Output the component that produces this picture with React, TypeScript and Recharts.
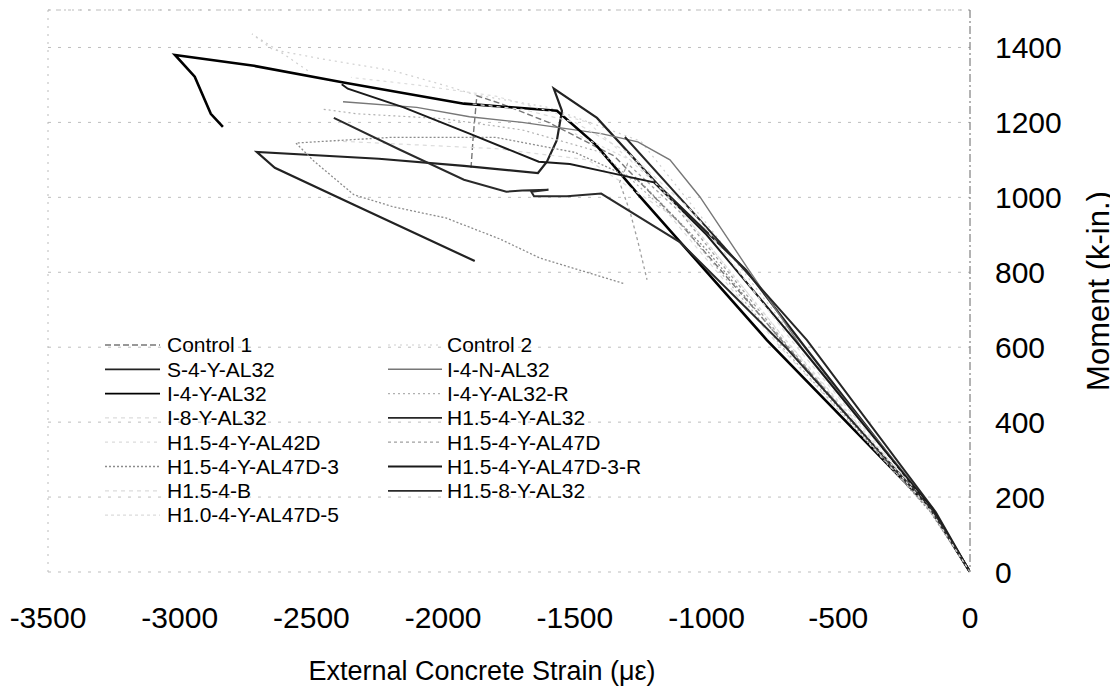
import React from 'react';
import { LineChart, Line, XAxis, YAxis, CartesianGrid, ReferenceLine, Legend, Label } from 'recharts';

type Pair = [number, number];

// strain in microstrain, moment in k-in.
const STRAIN_TICKS = [-3500, -3000, -2500, -2000, -1500, -1000, -500, 0];
const MOMENT_TICKS = [0, 200, 400, 600, 800, 1000, 1200, 1400];

const CONTROL_1: Pair[] = [
  [0, 0], [-160, 175], [-680, 590], [-1100, 930], [-1350, 1110], [-1600, 1200],
  [-1780, 1250], [-1872, 1271], [-1885, 1170], [-1895, 1071],
];
const CONTROL_2: Pair[] = [
  [0, 0], [-160, 180], [-640, 600], [-1000, 930], [-1250, 1150], [-1600, 1240],
  [-1880, 1274], [-1990, 1298], [-2191, 1338], [-2464, 1370], [-2646, 1394],
  [-2726, 1436], [-2600, 1380], [-2502, 1332],
];
const S_4_Y_AL32: Pair[] = [
  [0, 0], [-150, 170], [-626, 600], [-850, 806], [-1180, 1030], [-1416, 1212],
  [-1580, 1290], [-1549, 1231], [-1568, 1153], [-1606, 1095], [-1640, 1065],
  [-1921, 1084], [-2244, 1103], [-2707, 1121], [-2639, 1079], [-2339, 980], [-1880, 830],
];
const I_4_N_AL32: Pair[] = [
  [0, 0], [-140, 170], [-640, 600], [-847, 814], [-1025, 1001], [-1139, 1100],
  [-1261, 1148], [-1400, 1170], [-1700, 1200], [-1900, 1215], [-2100, 1240], [-2380, 1255],
];
const I_4_Y_AL32: Pair[] = [
  [0, 0], [-150, 170], [-771, 619], [-1250, 1000], [-1420, 1140], [-1568, 1231],
  [-1921, 1250], [-2373, 1306], [-2718, 1351], [-3018, 1380], [-2943, 1322],
  [-2882, 1223], [-2836, 1188],
];
const I_4_Y_AL32_R: Pair[] = [
  [0, 0], [-150, 160], [-700, 590], [-1100, 930], [-1400, 1120], [-1700, 1180],
  [-2000, 1210], [-2327, 1223], [-2464, 1236],
];
const I_8_Y_AL32: Pair[] = [
  [0, 0], [-150, 165], [-720, 600], [-1150, 960], [-1450, 1100], [-1800, 1130],
  [-2100, 1140], [-2400, 1150],
];
const H15_4_Y_AL32: Pair[] = [
  [0, 0], [-130, 160], [-619, 619], [-1000, 920], [-1310, 1161],
];
const H15_4_Y_AL42D: Pair[] = [
  [0, 0], [-150, 170], [-700, 620], [-1150, 1010], [-1450, 1200], [-1800, 1270],
  [-2100, 1300], [-2350, 1320],
];
const H15_4_Y_AL47D: Pair[] = [
  [0, 0], [-150, 165], [-700, 610], [-1100, 960], [-1300, 1090], [-1330, 1040],
  [-1290, 960], [-1260, 880], [-1226, 780],
];
const H15_4_Y_AL47D_3: Pair[] = [
  [0, 0], [-150, 160], [-650, 560], [-1000, 860], [-1250, 1040], [-1500, 1120],
  [-1800, 1160], [-2200, 1160], [-2559, 1145], [-2491, 1097], [-2339, 1007],
  [-2191, 975], [-1990, 945], [-1785, 889], [-1633, 838], [-1310, 769],
];
const H15_4_Y_AL47D_3_R: Pair[] = [
  [0, 0], [-140, 165], [-660, 615], [-1000, 900], [-1200, 1040], [-1382, 1068],
  [-1519, 1089], [-1637, 1095], [-1900, 1170], [-2150, 1240], [-2362, 1290], [-2385, 1302],
];
const H15_4_B: Pair[] = [
  [0, 0], [-150, 170], [-680, 620], [-1050, 960], [-1300, 1120], [-1500, 1200],
  [-1700, 1235], [-1900, 1250],
];
const H15_8_Y_AL32: Pair[] = [
  [0, 0], [-150, 170], [-700, 600], [-1100, 880], [-1400, 1010], [-1530, 1003],
  [-1655, 1003], [-1665, 1015], [-1600, 1020], [-1700, 1018], [-1760, 1015],
  [-1921, 1047], [-2164, 1127], [-2415, 1212],
];
const H10_4_Y_AL47D_5: Pair[] = [
  [0, 0], [-150, 165], [-690, 610], [-1080, 950], [-1260, 1090], [-1500, 1170],
];

const SERIES = [
  { name: 'Control 1', data: CONTROL_1, stroke: '#777', width: 1.4, dash: '6 3' },
  { name: 'Control 2', data: CONTROL_2, stroke: '#cfcfcf', width: 1.2, dash: '2 4' },
  { name: 'S-4-Y-AL32', data: S_4_Y_AL32, stroke: '#222', width: 2.2, dash: undefined },
  { name: 'I-4-N-AL32', data: I_4_N_AL32, stroke: '#777', width: 1.4, dash: undefined },
  { name: 'I-4-Y-AL32', data: I_4_Y_AL32, stroke: '#000', width: 2.6, dash: undefined },
  { name: 'I-4-Y-AL32-R', data: I_4_Y_AL32_R, stroke: '#b0b0b0', width: 1.2, dash: '2 3' },
  { name: 'I-8-Y-AL32', data: I_8_Y_AL32, stroke: '#dcdcdc', width: 1.2, dash: '4 4' },
  { name: 'H1.5-4-Y-AL32', data: H15_4_Y_AL32, stroke: '#262626', width: 2, dash: undefined },
  { name: 'H1.5-4-Y-AL42D', data: H15_4_Y_AL42D, stroke: '#dcdcdc', width: 1.2, dash: '3 4' },
  { name: 'H1.5-4-Y-AL47D', data: H15_4_Y_AL47D, stroke: '#a0a0a0', width: 1.3, dash: '3 3' },
  { name: 'H1.5-4-Y-AL47D-3', data: H15_4_Y_AL47D_3, stroke: '#8c8c8c', width: 1.3, dash: '2 2' },
  { name: 'H1.5-4-Y-AL47D-3-R', data: H15_4_Y_AL47D_3_R, stroke: '#1a1a1a', width: 2, dash: undefined },
  { name: 'H1.5-4-B', data: H15_4_B, stroke: '#dcdcdc', width: 1.2, dash: '4 4' },
  { name: 'H1.5-8-Y-AL32', data: H15_8_Y_AL32, stroke: '#2a2a2a', width: 2, dash: undefined },
  { name: 'H1.0-4-Y-AL47D-5', data: H10_4_Y_AL47D_5, stroke: '#dcdcdc', width: 1.2, dash: '3 3' },
];

const FONT = '"Liberation Sans", Arial, sans-serif';

const toPoints = (pairs: Pair[]) => pairs.map(([strain, moment]) => ({ strain, moment }));

// two columns, filled row by row like the original spreadsheet legend
const LEGEND_COLUMNS = [
  { lineFrom: 7, lineTo: 62, textX: 69 },
  { lineFrom: 290, lineTo: 344, textX: 349 },
];

function LegendGrid() {
  // recharts sorts its payload by name, so keep the series order ourselves
  return (
    <svg width={600} height={200} style={{ display: 'block' }}>
      {SERIES.map((s, i) => {
        const col = LEGEND_COLUMNS[i % 2];
        const y = 12 + Math.floor(i / 2) * 24.3;
        return (
          <g key={s.name}>
            <line
              x1={col.lineFrom}
              x2={col.lineTo}
              y1={y}
              y2={y}
              stroke={s.stroke}
              strokeWidth={Math.min(s.width, 1.8)}
              strokeDasharray={s.dash}
            />
            <text x={col.textX} y={y} dy="0.35em" fontSize={21} fontFamily={FONT} fill="#000">
              {s.name}
            </text>
          </g>
        );
      })}
    </svg>
  );
}

export default function App() {
  return (
    <div style={{ width: 1110, height: 688, fontFamily: FONT }}>
      <LineChart width={1110} height={688} margin={{ top: 2, right: 0, bottom: 0, left: 40 }}>
        <CartesianGrid vertical={false} stroke="#bdbdbd" strokeDasharray="3 7" />
        <XAxis
          type="number"
          dataKey="strain"
          domain={[-3500, 0]}
          ticks={STRAIN_TICKS}
          allowDataOverflow
          axisLine={false}
          tickLine={false}
          tickSize={0}
          tickMargin={35}
          height={124}
          tick={{ fill: '#000', fontSize: 30, fontFamily: FONT }}
        >
          <Label
            value="External Concrete Strain (με)"
            position="insideBottom"
            offset={16}
            dx={-27}
            fontSize={27}
            fill="#000"
            fontFamily={FONT}
          />
        </XAxis>
        <YAxis
          type="number"
          orientation="right"
          domain={[0, 1500]}
          ticks={MOMENT_TICKS}
          allowDataOverflow
          width={148}
          axisLine={{ stroke: '#666', strokeDasharray: '8 3 2 3' }}
          tickLine={false}
          tickSize={0}
          tickMargin={25}
          tick={{ fill: '#000', fontSize: 30, fontFamily: FONT }}
        >
          <Label
            value="Moment (k-in.)"
            angle={-90}
            position="center"
            dx={54}
            fontSize={31}
            fill="#000"
            fontFamily={FONT}
          />
        </YAxis>
        <ReferenceLine x={-3500} stroke="#bbb" strokeDasharray="2 6" />
        <ReferenceLine y={1500} stroke="#bbb" strokeDasharray="2 6" />
        <Legend
          content={<LegendGrid />}
          verticalAlign="middle"
          align="center"
          wrapperStyle={{ left: 90, top: 325, width: 600, height: 200 }}
        />
        {SERIES.map((s) => (
          <Line
            key={s.name}
            name={s.name}
            data={toPoints(s.data)}
            dataKey="moment"
            type="linear"
            stroke={s.stroke}
            strokeWidth={s.width}
            strokeDasharray={s.dash}
            dot={false}
            activeDot={false}
            legendType="line"
            isAnimationActive={false}
          />
        ))}
      </LineChart>
    </div>
  );
}
